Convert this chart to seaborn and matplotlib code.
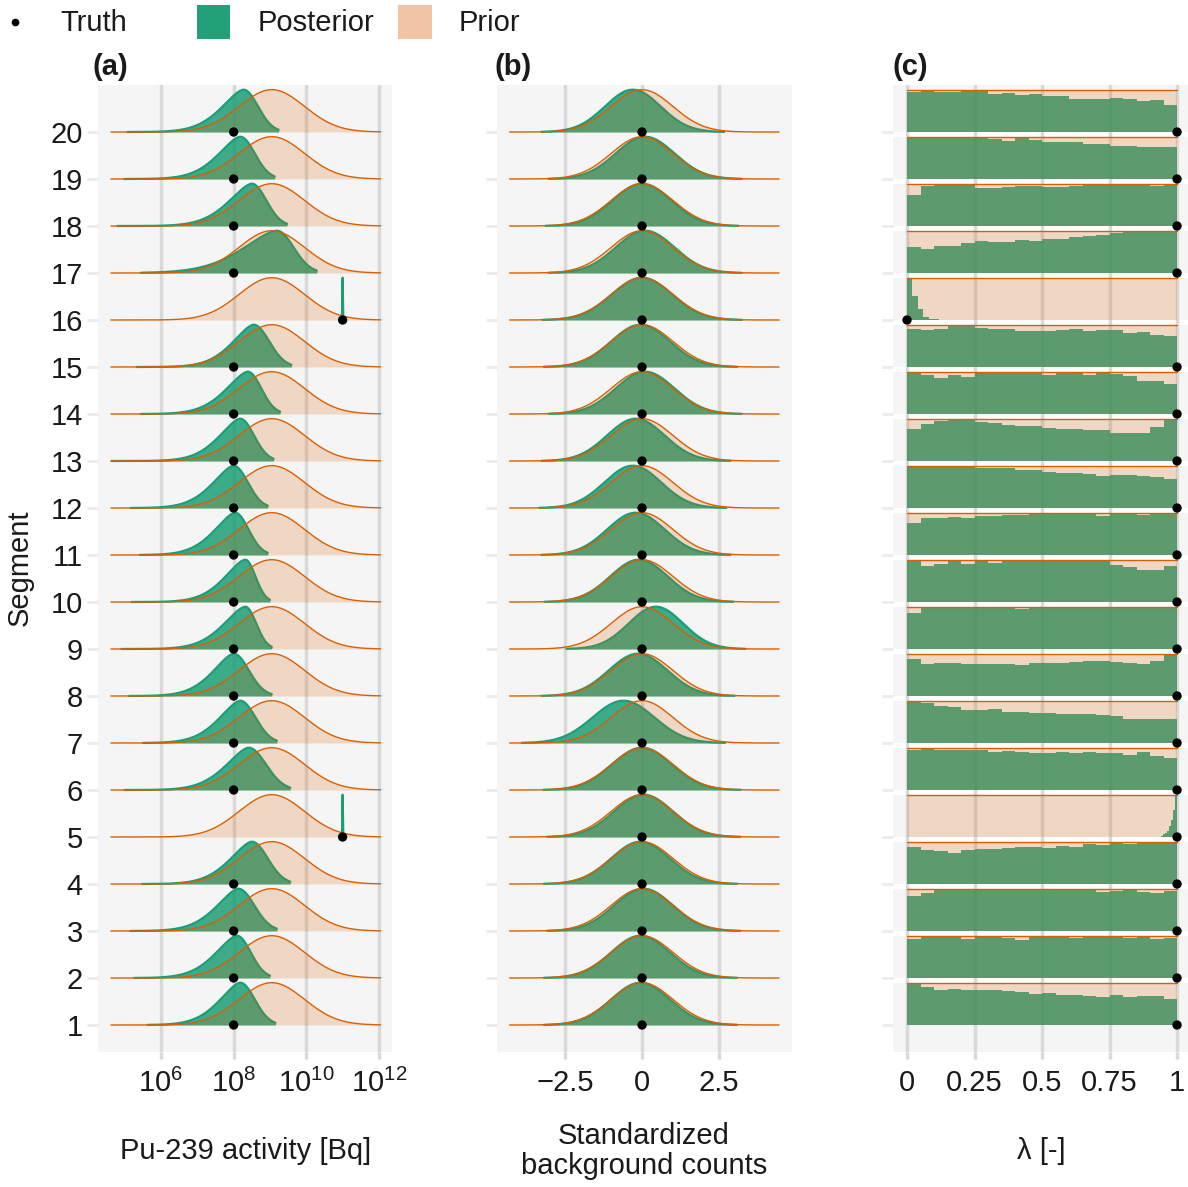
import numpy as np
import pandas as pd
import matplotlib
matplotlib.use("Agg")
import matplotlib.pyplot as plt
import seaborn as sns
from matplotlib.patches import Rectangle
from matplotlib.lines import Line2D

# ---------------- data ----------------
segments = list(range(1, 21))

# Panel (a): log10 of Pu-239 activity
truth_a = [8, 8, 8, 8, 11, 8, 8, 8, 8, 8, 8, 8, 8, 8, 8, 11, 8, 8, 8, 8]
post_a_mode = [8.18, 8.09, 8.13, 8.50, 11.0, 8.41, 8.18, 8.00, 8.32, 8.32,
               8.04, 8.00, 8.18, 8.39, 8.55, 11.0, 9.19, 8.50, 8.18, 8.27]
post_a_sdl = [0.54, 0.56, 0.57, 0.57, 0.008, 0.59, 0.55, 0.54, 0.57, 0.54,
              0.54, 0.55, 0.55, 0.57, 0.55, 0.008, 0.88, 0.60, 0.57, 0.57]
post_a_sdr = [0.40, 0.38, 0.44, 0.44, 0.008, 0.48, 0.42, 0.42, 0.30, 0.28,
              0.37, 0.39, 0.38, 0.37, 0.43, 0.008, 0.46, 0.40, 0.40, 0.40]
post_a_lo = [5.63, 5.26, 5.15, 5.47, 10.97, 5.00, 5.51, 5.12, 4.91, 5.19,
             5.42, 5.17, 4.64, 5.45, 5.33, 10.97, 5.45, 4.80, 4.99, 5.08]
post_a_hi = [9.15, 9.00, 9.19, 9.56, 11.03, 9.56, 9.19, 9.05, 9.05, 9.00,
             8.94, 8.94, 9.10, 9.28, 9.59, 11.03, 10.29, 9.47, 9.13, 9.24]
post_a_left_power = 1.6
prior_a_mean, prior_a_sd = 9.05, 0.90
prior_a_range = (4.62, 12.05)

# Panel (b): standardized background counts
truth_b = [0] * 20
post_b_mean = [-0.05, -0.05, 0.05, -0.05, 0.05, 0.0, -0.6, -0.13, 0.45, -0.1,
               -0.2, -0.3, -0.2, 0.1, -0.05, 0.0, 0.1, 0.0, 0.1, -0.3]
post_b_sd = [0.95, 0.95, 0.95, 0.95, 0.95, 0.97, 1.0, 0.95, 0.88, 0.93,
             0.93, 0.92, 0.93, 0.95, 0.95, 0.98, 0.95, 0.95, 0.95, 0.9]
prior_b_mean, prior_b_sd = 0.0, 1.0
prior_b_range = (-4.3, 4.45)

# Panel (c): lambda, binned posterior heights (relative)
truth_c = [1, 1, 1, 1, 1, 1, 1, 1, 1, 1, 1, 1, 1, 1, 1, 0, 1, 1, 1, 1]
post_c = {
    1: (0.0, 0.05, [1.0, .91, .83, .85, .82, .82, .83, .80, .77, .74, .76, .71, .71, .69, .67, .71, .67, .68, .68, .62]),
    2: (0.0, 0.05, [.91, .98, .95, .95, .91, .94, .94, .92, .87, .98, .97, .95, .92, .94, .94, .94, .92, .97, .90, .92]),
    3: (0.0, 0.05, [.82, .87, .94, .94, .94, .94, .98, .98, .98, .98, .98, .98, .98, .97, .90, .93, .94, .90, .88, .92]),
    4: (0.0, 0.05, [.87, .81, .77, .73, .81, .83, .82, .84, .87, .87, .85, .89, .87, .94, .92, .98, .95, .96, .98, 1.0]),
    5: (0.94, 0.0075, [.03, .06, .10, .15, .25, .40, .65, 1.0]),
    6: (0.0, 0.05, [.94, .99, .93, .94, .94, .93, .90, .92, .90, .87, .87, .88, .87, .88, .87, .87, .82, .88, .79, .74]),
    7: (0.0, 0.05, [.98, .92, .86, .83, .77, .77, .79, .72, .72, .69, .70, .68, .68, .68, .66, .62, .56, .56, .56, .56]),
    8: (0.0, 0.05, [.85, .73, .76, .76, .75, .75, .73, .73, .71, .76, .76, .76, .78, .80, .81, .78, .76, .73, .81, .98]),
    9: (0.0, 0.05, [.83, .96, .95, .98, .98, .95, .95, .96, .92, .98, .98, .98, .96, .98, .98, .98, .98, .95, .95, .98]),
    10: (0.0, 0.05, [.94, .83, .89, .94, .89, .94, .91, .94, .94, .94, .98, .98, .98, .98, .96, .85, .81, .75, .75, .83]),
    11: (0.0, 0.05, [.74, .87, .87, .88, .87, .92, .92, .94, .94, .98, .98, .98, .98, .99, .92, .98, .98, .94, .98, .98]),
    12: (0.0, 0.05, [.99, .99, .98, .98, .98, .94, .93, .94, .90, .90, .85, .83, .82, .79, .75, .77, .77, .75, .72, .69]),
    13: (0.0, 0.05, [.76, .87, .94, .97, 1.0, .92, .90, .84, .83, .83, .78, .76, .75, .73, .73, .67, .67, .67, .80, 1.0]),
    14: (0.0, 0.05, [.96, .92, .86, .92, .88, .96, .98, 1.0, 1.0, 1.0, .92, .97, 1.0, .92, .97, .94, .89, .79, .79, .72]),
    15: (0.0, 0.05, [.91, .87, .90, 1.0, 1.0, .92, .90, .91, .86, .86, .85, .87, .89, .85, .87, .87, .81, .83, .76, .73]),
    16: (0.0, 0.02, [1.0, .57, .25, .06, .03, .02]),
    17: (0.0, 0.05, [.62, .57, .65, .65, .71, .76, .74, .74, .77, .76, .80, .80, .84, .87, .91, .95, .97, .97, .99, 1.0]),
    18: (0.0, 0.05, [.74, .95, 1.0, .98, .98, .90, .90, .92, .94, .94, .93, .93, .95, .97, .98, .98, .98, .98, .95, 1.0]),
    19: (0.0, 0.05, [.98, .98, .98, .97, .98, .95, .93, .89, .99, .91, .87, .87, .87, .82, .83, .78, .78, .74, .74, .74]),
    20: (0.0, 0.05, [.94, 1.0, .94, .94, .976, .96, .90, .92, .88, .91, .84, .84, .79, .79, .79, .81, .78, .74, .76, .65]),
}

a_ticks = [6, 8, 10, 12]
a_ticklabels = [r"$10^{6}$", r"$10^{8}$", r"$10^{10}$", r"$10^{12}$"]
b_ticks = [-2.5, 0, 2.5]
b_ticklabels = ["\u22122.5", "0", "2.5"]
c_ticks = [0, 0.25, 0.5, 0.75, 1]
c_ticklabels = ["0", "0.25", "0.5", "0.75", "1"]

# ---------------- style ----------------
sns.set_theme(style="white")
plt.rcParams['font.family'] = ['Liberation Sans', 'DejaVu Sans']
plt.rcParams['mathtext.fontset'] = 'custom'
plt.rcParams['mathtext.rm'] = 'Liberation Sans'
plt.rcParams['mathtext.it'] = 'Liberation Sans:italic'
plt.rcParams['mathtext.bf'] = 'Liberation Sans:bold'

H = 0.9
BG = '#F5F5F5'
GRID = '#D9D9D9'
POST = '#1B9E77'
PRIOR = '#D95F02'
FS = 21
TXT = '#1A1A1A'

W, HH = 1188, 1187
fig = plt.figure(figsize=(W / 100, HH / 100), dpi=100)

lefts = [98, 497, 893]
widths = [294, 295, 297]
xlims = [(4.265, 12.36), (-4.71, 4.87), (-0.052, 1.048)]
axes = []
for i, (l, w) in enumerate(zip(lefts, widths)):
    ax = fig.add_axes([l / W, (HH - 1052) / HH, w / W, 967 / HH])
    ax.set_facecolor(BG)
    for s in ax.spines.values():
        s.set_visible(False)
    ax.set_xlim(*xlims[i])
    ax.set_ylim(0.4255, 21.0)
    ax.set_yticks(segments)
    ax.grid(axis='x', color=GRID, lw=2.5)
    ax.set_axisbelow(True)
    ax.tick_params(axis='y', left=True, length=8, width=2, color='#EBEBEB',
                   labelsize=FS, pad=3, labelcolor=TXT)
    ax.tick_params(axis='x', bottom=True, length=5, width=2.5, color=GRID,
                   labelsize=FS, pad=7, labelcolor=TXT)
    if i > 0:
        ax.tick_params(axis='y', labelleft=False)
    axes.append(ax)

axA, axB, axC = axes
axA.set_xticks(a_ticks)
axA.set_xticklabels(a_ticklabels)
axB.set_xticks(b_ticks)
axB.set_xticklabels(b_ticklabels)
axC.set_xticks(c_ticks)
axC.set_xticklabels(c_ticklabels)


def two_piece(x, m, sl, sr, pl=2.0):
    d = np.abs(x - m)
    return np.where(x < m, np.exp(-0.5 * (d / sl) ** pl), np.exp(-0.5 * (d / sr) ** 2))


def draw_ridges(ax, post_rows, prior_rows):
    post_df = []
    prior_df = []
    for seg in segments:
        x, y = post_rows[seg]
        y = y / y.max() * H
        ax.fill_between(x, seg, seg + y, color=POST, alpha=0.85, lw=0, zorder=2)
        post_df.append(pd.DataFrame({'x': x, 'y': seg + y, 'seg': seg}))
        x, y = prior_rows[seg]
        y = y / y.max() * H
        ax.fill_between(x, seg, seg + y, color=PRIOR, alpha=0.2, lw=0, zorder=3)
        prior_df.append(pd.DataFrame({'x': x, 'y': seg + y, 'seg': seg}))
    post_df = pd.concat(post_df)
    prior_df = pd.concat(prior_df)
    sns.lineplot(data=post_df, x='x', y='y', units='seg', estimator=None, sort=False,
                 color=POST, lw=1.6, ax=ax, zorder=2.5, legend=False)
    sns.lineplot(data=prior_df, x='x', y='y', units='seg', estimator=None, sort=False,
                 color=PRIOR, lw=1.0, ax=ax, zorder=3.5, legend=False)


# Panel (a)
post_rows, prior_rows = {}, {}
for i, seg in enumerate(segments):
    x = np.linspace(post_a_lo[i], post_a_hi[i], 700)
    pl = post_a_left_power if post_a_sdl[i] > 0.1 else 2.0
    post_rows[seg] = (x, two_piece(x, post_a_mode[i], post_a_sdl[i], post_a_sdr[i], pl))
    xp = np.linspace(*prior_a_range, 600)
    prior_rows[seg] = (xp, two_piece(xp, prior_a_mean, prior_a_sd, prior_a_sd))
draw_ridges(axA, post_rows, prior_rows)

# Panel (b)
post_rows, prior_rows = {}, {}
for i, seg in enumerate(segments):
    x = np.linspace(post_b_mean[i] - 3.3 * post_b_sd[i], post_b_mean[i] + 3.3 * post_b_sd[i], 600)
    post_rows[seg] = (x, two_piece(x, post_b_mean[i], post_b_sd[i], post_b_sd[i]))
    xp = np.linspace(*prior_b_range, 600)
    prior_rows[seg] = (xp, two_piece(xp, prior_b_mean, prior_b_sd, prior_b_sd))
draw_ridges(axB, post_rows, prior_rows)

# Panel (c)
for seg in segments[1:]:
    axC.axhspan(seg - (1 - H), seg, color='white', lw=0, zorder=0.4)
prior_lines = []
for seg in segments:
    start, width, vals = post_c[seg]
    vals = np.asarray(vals, dtype=float)
    edges = start + width * np.arange(len(vals) + 1)
    heights = np.append(vals, vals[-1]) / vals.max() * H
    axC.fill_between(edges, seg, seg + heights, step='post', color=POST, alpha=0.85,
                     lw=0, zorder=2)
    axC.fill_between([0, 1], seg, seg + H, color=PRIOR, alpha=0.2, lw=0, zorder=3)
    prior_lines.append(pd.DataFrame({'x': [0, 1], 'y': [seg + H, seg + H], 'seg': seg}))
sns.lineplot(data=pd.concat(prior_lines), x='x', y='y', units='seg', estimator=None,
             sort=False, color=PRIOR, lw=1.0, ax=axC, zorder=3.5, legend=False)

# Truth points
for ax, tv in zip(axes, [truth_a, truth_b, truth_c]):
    sns.scatterplot(x=tv, y=segments, color='black', s=45, edgecolor='none',
                    ax=ax, zorder=6, legend=False, clip_on=False)
    ax.set_xlabel("")
    ax.set_ylabel("")

# ---------------- text ----------------
def fy(py):
    return 1 - py / HH


fig.text(20 / W, fy(568), "Segment", rotation=90, ha='center', va='center',
         fontsize=FS, color=TXT)
fig.text(246 / W, fy(1151), "Pu-239 activity [Bq]", ha='center', va='center',
         fontsize=FS, color=TXT)
fig.text(644 / W, fy(1151), "Standardized\nbackground counts", ha='center',
         va='center', fontsize=FS, color=TXT, linespacing=1.05)
fig.text(1041 / W, fy(1151), "\u03bb [-]", ha='center', va='center',
         fontsize=FS, color=TXT)

for lbl, px in zip(["(a)", "(b)", "(c)"], [92, 495, 893]):
    fig.text(px / W, fy(67), lbl, ha='left', va='center', fontsize=FS,
             fontweight='bold', color=TXT)

# legend
fig.add_artist(Line2D([15 / W], [fy(22)], marker='o', color='black', ms=4.5,
                      lw=0, transform=fig.transFigure))
fig.text(60 / W, fy(23), "Truth", ha='left', va='center', fontsize=FS, color=TXT)
fig.add_artist(Rectangle((197 / W, fy(39)), 33 / W, 34 / HH, transform=fig.transFigure,
                         facecolor='#21A07A', edgecolor='none'))
fig.text(258 / W, fy(23), "Posterior", ha='left', va='center', fontsize=FS, color=TXT)
fig.add_artist(Rectangle((398 / W, fy(39)), 34 / W, 34 / HH, transform=fig.transFigure,
                         facecolor='#F2C4A6', edgecolor='none'))
fig.text(459 / W, fy(23), "Prior", ha='left', va='center', fontsize=FS, color=TXT)

fig.savefig("out.png", dpi=100, facecolor='white')
